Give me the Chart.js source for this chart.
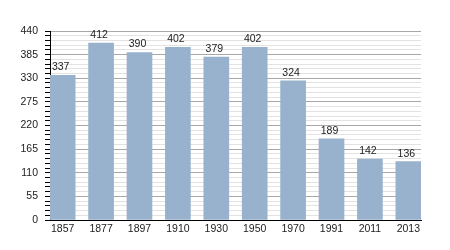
<!DOCTYPE html>
<html>
<head>
<meta charset="utf-8">
<script src="https://cdn.jsdelivr.net/npm/chart.js@4/dist/chart.umd.min.js"></script>
<style>
html,body{margin:0;padding:0;background:#fff;}
#wrap{width:450px;height:250px;position:relative;}
</style>
</head>
<body>
<div id="wrap"><canvas id="c" width="450" height="250"></canvas></div>
<script>
const categories = ['1857','1877','1897','1910','1930','1950','1970','1991','2011','2013'];
const values = [337, 412, 390, 402, 379, 402, 324, 189, 142, 136];
const yMax = 440;
const yMajorStep = 55;
const yMinorStep = 11;

const FONT = '"Liberation Sans", Arial, sans-serif';

const valueLabels = {
  id: 'valueLabels',
  afterDatasetsDraw(chart) {
    const ctx = chart.ctx;
    const meta = chart.getDatasetMeta(0);
    ctx.save();
    ctx.font = '10.5px ' + FONT;
    ctx.fillStyle = '#222';
    ctx.textAlign = 'center';
    ctx.textBaseline = 'alphabetic';
    meta.data.forEach((bar, i) => {
      ctx.fillText(String(values[i]), bar.x - 2, bar.y - 5);
    });
    ctx.restore();
  }
};

new Chart(document.getElementById('c'), {
  type: 'bar',
  data: {
    datasets: [{
      data: categories.map((c, i) => ({x: i, y: values[i]})),
      backgroundColor: '#98b1cc',
      borderWidth: 0,
      barThickness: 25
    }]
  },
  options: {
    responsive: false,
    animation: false,
    devicePixelRatio: 1,
    layout: {padding: {top: 31, right: 29, left: 0, bottom: 0}},
    plugins: {legend: {display: false}, tooltip: {enabled: false}},
    scales: {
      x: {
        type: 'linear',
        offset: false,
        min: -0.33,
        max: categories.length - 1 + 0.33,
        afterBuildTicks(scale) {
          scale.ticks = categories.map((c, i) => ({value: i}));
        },
        afterFit(scale) { scale.height = 30; },
        ticks: {
          autoSkip: false,
          maxRotation: 0,
          padding: 3,
          color: '#222',
          font: {family: FONT, size: 10.5},
          callback: (v) => categories[v] !== undefined ? categories[v] : ''
        },
        grid: {display: true, drawOnChartArea: false, drawTicks: false, offset: false},
        border: {display: true, color: '#000', width: 1}
      },
      y: {
        min: 0,
        max: yMax,
        afterBuildTicks(scale) {
          const t = [];
          for (let v = 0; v <= yMax; v += yMinorStep) t.push({value: v});
          scale.ticks = t;
        },
        afterFit(scale) { scale.width = 50; },
        ticks: {
          autoSkip: false,
          padding: 7,
          color: '#222',
          font: {family: FONT, size: 10.5},
          callback: (v) => (v % yMajorStep === 0 ? String(v) : '')
        },
        grid: {
          color: (c) => (c.tick && c.tick.value % yMajorStep === 0 ? '#a8a8a8' : '#e2e2e2'),
          tickColor: '#000',
          tickLength: 5,
          lineWidth: 1
        },
        border: {display: true, color: '#000', width: 1}
      }
    }
  },
  plugins: [valueLabels]
});
</script>
</body>
</html>
